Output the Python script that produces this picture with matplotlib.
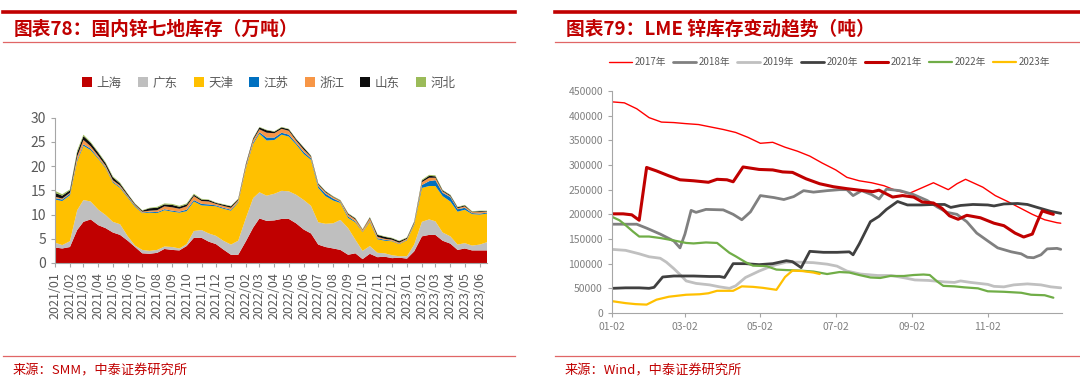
import numpy as np
import pandas as pd
import matplotlib
matplotlib.use("Agg")
import matplotlib.pyplot as plt
import matplotlib.dates as mdates
from matplotlib.lines import Line2D

plt.rcParams['font.family'] = ['Noto Sans CJK SC', 'DejaVu Sans']

# ---- left: 国内锌七地库存（万吨），semi-monthly readings ----
months = pd.date_range("2021-01-01", "2023-06-01", freq="MS")
inv_dates = [d for m in months for d in (m, m + pd.Timedelta(days=15))]

regions = ["上海", "广东", "天津", "江苏", "浙江", "山东", "河北"]
region_colors = ["#C00000", "#BFBFBF", "#FFC000", "#0070C0", "#F79646", "#0D0D0D", "#9BBB59"]

shanghai = [3.2, 3.0, 3.3, 6.8, 8.5, 9.0, 7.8, 7.2, 6.3, 5.8,
            4.6, 3.3, 2.0, 1.9, 2.1, 2.9, 2.7, 2.6, 3.5, 5.2,
            5.2, 4.4, 3.9, 2.8, 1.7, 1.7, 4.5, 7.3, 9.2, 8.7,
            8.8, 9.1, 9.1, 8.2, 6.9, 6.1, 3.8, 3.3, 3.0, 2.7,
            1.7, 2.0, 0.8, 1.9, 1.2, 1.3, 1.0, 1.1, 0.9, 2.4,
            5.5, 5.8, 5.8, 4.6, 4.0, 2.7, 3.0, 2.6, 2.6, 2.6]
guangdong = [1.0, 0.7, 1.2, 4.1, 4.5, 3.7, 3.2, 2.7, 2.2, 2.2,
             0.9, 0.3, 0.7, 0.6, 0.6, 0.5, 0.6, 0.4, 0.4, 1.4,
             1.6, 1.7, 1.7, 1.8, 2.1, 2.9, 4.8, 6.1, 5.4, 5.2,
             5.5, 5.8, 5.7, 5.9, 6.1, 5.7, 4.6, 4.8, 5.2, 6.2,
             5.5, 2.8, 1.7, 1.6, 0.9, 0.7, 0.6, 0.3, 0.5, 1.4,
             3.0, 3.2, 2.8, 1.7, 1.5, 1.1, 1.1, 1.0, 1.2, 1.7]
tianjin = [8.9, 9.1, 9.5, 10.1, 11.2, 10.6, 10.5, 9.7, 8.1, 7.5,
           8.0, 8.0, 7.6, 7.9, 7.6, 7.5, 7.3, 7.4, 6.8, 6.1,
           5.1, 5.7, 6.1, 6.6, 7.0, 7.9, 10.3, 11.2, 12.1, 11.4,
           11.1, 11.6, 11.3, 10.4, 9.5, 9.5, 7.1, 5.7, 4.7, 3.5,
           2.1, 3.6, 3.9, 5.0, 2.8, 2.6, 2.9, 2.5, 3.3, 4.1,
           7.0, 6.9, 7.3, 7.5, 7.2, 6.8, 6.9, 6.5, 6.2, 5.9]
jiangsu = [0.3, 0.3, 0.3, 0.3, 0.3, 0.3, 0.2, 0.2, 0.2, 0.2,
           0.2, 0.2, 0.1, 0.2, 0.2, 0.2, 0.2, 0.2, 0.3, 0.3,
           0.3, 0.3, 0.2, 0.2, 0.2, 0.2, 0.2, 0.3, 0.3, 0.6,
           0.5, 0.4, 0.4, 0.3, 0.4, 0.3, 0.4, 0.5, 0.4, 0.2,
           0.3, 0.2, 0.1, 0.2, 0.2, 0.2, 0.1, 0.1, 0.1, 0.2,
           0.6, 1.0, 1.2, 0.7, 0.9, 0.5, 0.4, 0.2, 0.2, 0.2]
zhejiang = [0.3, 0.2, 0.2, 0.7, 0.9, 0.5, 0.4, 0.3, 0.3, 0.3,
            0.2, 0.2, 0.2, 0.2, 0.4, 0.6, 0.7, 0.6, 0.7, 0.8,
            0.6, 0.6, 0.3, 0.4, 0.4, 0.3, 0.4, 0.5, 0.6, 1.0,
            0.9, 0.8, 0.8, 0.5, 0.5, 0.3, 0.3, 0.3, 0.3, 0.2,
            0.4, 0.4, 0.3, 0.5, 0.3, 0.2, 0.2, 0.2, 0.2, 0.2,
            0.6, 0.7, 0.5, 0.3, 0.2, 0.2, 0.3, 0.2, 0.3, 0.2]
shandong = [0.8, 0.6, 0.5, 0.8, 0.8, 0.7, 0.6, 0.5, 0.6, 0.4,
            0.3, 0.2, 0.2, 0.5, 0.5, 0.4, 0.5, 0.4, 0.4, 0.3,
            0.3, 0.3, 0.2, 0.25, 0.3, 0.2, 0.3, 0.3, 0.4, 0.5,
            0.3, 0.3, 0.3, 0.3, 0.4, 0.2, 0.2, 0.2, 0.1, 0.1,
            0.2, 0.2, 0.1, 0.2, 0.4, 0.4, 0.3, 0.3, 0.2, 0.2,
            0.3, 0.4, 0.3, 0.2, 0.2, 0.2, 0.2, 0.1, 0.2, 0.1]
hebei = [0.4, 0.3, 0.2, 0.4, 0.3, 0.2, 0.2, 0.2, 0.2, 0.2,
         0.1, 0.1, 0.1, 0.1, 0.2, 0.2, 0.2, 0.2, 0.2, 0.2,
         0.15, 0.1, 0.1, 0.1, 0.1, 0.1, 0.1, 0.1, 0.1, 0.1,
         0.1, 0.1, 0.1, 0.1, 0.1, 0.1, 0.1, 0.1, 0.1, 0.1,
         0.1, 0.1, 0.1, 0.1, 0.1, 0.1, 0.1, 0.1, 0.1, 0.1,
         0.2, 0.2, 0.2, 0.1, 0.1, 0.1, 0.1, 0.1, 0.1, 0.1]

# ---- right: LME 锌库存（吨），day-of-year readings ----
lme_years = ["2017年", "2018年", "2019年", "2020年", "2021年", "2022年", "2023年"]
lme_colors = ["#FF0000", "#808080", "#C0C0C0", "#404040", "#C00000", "#70AD47", "#FFC000"]
lme_widths = [1.0, 2.0, 2.0, 2.0, 2.2, 1.6, 1.6]

d2017 = ["01-02", "01-12", "01-22", "02-01", "02-11", "02-21", "03-02", "03-13", "03-23", "04-02",
         "04-12", "04-22", "05-02", "05-12", "05-22", "06-01", "06-11", "06-21", "07-02", "07-11",
         "07-21", "07-31", "08-10", "08-20", "08-30", "09-09", "09-19", "10-01", "10-08", "10-15",
         "10-29", "11-08", "11-18", "11-28", "12-08", "12-18", "12-28", "12-31"]
v2017 = [428, 426, 414, 396, 387, 386, 384, 382, 377, 372,
         366, 356, 344, 346, 336, 328, 318, 304, 290, 275,
         268, 264, 258, 248, 242, 253, 264, 250, 262, 271,
         255, 238, 226, 213, 200, 189, 183, 182]
d2018 = ["01-02", "01-22", "01-30", "02-10", "02-21", "02-26", "03-02", "03-07", "03-11", "03-19",
         "04-02", "04-10", "04-17", "04-24", "05-02", "05-13", "05-21", "05-29", "06-06", "06-14",
         "06-25", "07-05", "07-11", "07-16", "07-23", "07-31", "08-06", "08-12", "08-23", "09-03",
         "09-14", "09-22", "09-30", "10-08", "10-16", "10-24", "11-02", "11-10", "11-21", "11-29",
         "12-04", "12-09", "12-15", "12-20", "12-28", "12-31"]
v2018 = [180, 180, 172, 160, 146, 132, 160, 208, 204, 210,
         209, 200, 189, 205, 238, 234, 230, 236, 248, 245,
         248, 250, 250, 238, 248, 240, 231, 251, 248, 240,
         228, 215, 204, 200, 185, 162, 146, 132, 124, 120,
         113, 112, 118, 130, 131, 129]
d2019 = ["01-02", "01-13", "01-24", "02-01", "02-10", "02-15", "02-21", "02-26", "03-03", "03-11",
         "03-22", "03-30", "04-07", "04-12", "04-20", "05-01", "05-12", "05-23", "06-03", "06-14",
         "06-25", "07-03", "07-11", "07-22", "08-05", "08-16", "08-27", "09-04", "09-15", "09-28",
         "10-06", "10-11", "10-19", "11-02", "11-07", "11-15", "11-23", "12-04", "12-15", "12-23",
         "12-31"]
v2019 = [129, 127, 120, 114, 111, 103, 90, 78, 65, 60,
         57, 53, 50, 55, 72, 85, 96, 103, 103, 102,
         99, 95, 85, 79, 76, 76, 71, 67, 66, 63,
         62, 65, 62, 58, 54, 53, 57, 59, 57, 53,
         51]
d2020 = ["01-02", "01-13", "01-24", "02-01", "02-05", "02-12", "02-21", "03-09", "03-22", "03-30",
         "04-03", "04-10", "04-20", "05-01", "05-12", "05-23", "05-28", "06-04", "06-11", "06-22",
         "07-03", "07-13", "07-16", "07-21", "07-30", "08-06", "08-12", "08-21", "08-29", "09-09",
         "09-19", "09-28", "10-03", "10-11", "10-21", "11-02", "11-07", "11-15", "11-26", "12-04",
         "12-12", "12-23", "12-31"]
v2020 = [50, 51, 51, 50, 52, 73, 75, 75, 74, 74,
         72, 100, 100, 98, 100, 106, 104, 92, 125, 123,
         123, 124, 118, 140, 185, 196, 210, 226, 219, 219,
         220, 220, 214, 218, 220, 219, 217, 221, 222, 220,
         214, 206, 202]
d2021 = ["01-02", "01-11", "01-18", "01-24", "01-30", "02-07", "02-17", "02-26", "03-09", "03-21",
         "03-28", "04-05", "04-10", "04-18", "05-01", "05-12", "05-20", "05-28", "06-08", "06-19",
         "06-30", "07-11", "07-21", "08-01", "08-06", "08-17", "08-25", "09-03", "09-10", "09-19",
         "09-26", "10-02", "10-09", "10-16", "10-27", "11-07", "11-15", "11-24", "12-01", "12-08",
         "12-12", "12-16", "12-21", "12-25"]
v2021 = [201, 201, 199, 188, 295, 288, 278, 270, 268, 265,
         271, 270, 266, 296, 291, 290, 286, 285, 272, 262,
         256, 252, 249, 246, 249, 235, 238, 235, 225, 223,
         212, 197, 190, 198, 193, 182, 177, 162, 154, 160,
         185, 207, 203, 200]
d2022 = ["01-02", "01-08", "01-13", "01-19", "01-24", "02-01", "02-10", "02-21", "03-03", "03-09",
         "03-19", "03-28", "04-02", "04-07", "04-12", "04-20", "04-26", "05-07", "05-15", "05-23",
         "06-03", "06-14", "06-25", "07-05", "07-13", "07-21", "07-30", "08-07", "08-15", "08-26",
         "09-03", "09-11", "09-16", "09-22", "09-27", "10-06", "10-14", "10-25", "11-02", "11-15",
         "11-29", "12-07", "12-18", "12-25"]
v2022 = [195, 188, 178, 165, 155, 155, 152, 147, 142, 141,
         143, 142, 132, 122, 115, 103, 96, 95, 88, 87,
         86, 84, 79, 83, 82, 77, 72, 71, 75, 75,
         77, 78, 77, 64, 55, 54, 52, 50, 44, 43,
         41, 37, 36, 31]
d2023 = ["01-02", "01-13", "01-21", "01-30", "02-07", "02-17", "03-03", "03-14", "03-21", "03-28",
         "04-10", "04-17", "04-26", "05-04", "05-15", "05-22", "05-28", "06-05", "06-14", "06-19"]
v2023 = [24, 20, 18, 17, 27, 33, 37, 38, 40, 45,
         45, 54, 53, 51, 47, 73, 86, 85, 82, 79]

lme_dates = [d2017, d2018, d2019, d2020, d2021, d2022, d2023]
lme_values = [v2017, v2018, v2019, v2020, v2021, v2022, v2023]
lme_ticks = ["01-02", "03-02", "05-02", "07-02", "09-02", "11-02"]

RED = "#C00000"
TICK = "#595959"
AXIS = "#A6A6A6"

fig = plt.figure(figsize=(10.8, 3.87), dpi=100)

# header / footer rules
for x0, x1 in [(0.003, 0.477), (0.514, 1.0)]:
    fig.add_artist(Line2D([x0, x1], [1 - 12 / 387] * 2, color=RED, lw=2.6))
    fig.add_artist(Line2D([x0, x1], [1 - 42 / 387] * 2, color="#E06666", lw=0.9))
    fig.add_artist(Line2D([x0, x1], [1 - 356 / 387] * 2, color="#E06666", lw=0.9))

fig.text(0.013, 1 - 29 / 387, "图表78：国内锌七地库存（万吨）", color=RED, fontsize=13.5,
         fontweight="bold", va="center", ha="left")
fig.text(0.524, 1 - 29 / 387, "图表79：LME 锌库存变动趋势（吨）", color=RED, fontsize=13.5,
         fontweight="bold", va="center", ha="left")
fig.text(0.012, 1 - 371 / 387, "来源：SMM，中泰证券研究所", color=RED, fontsize=9.5, va="center")
fig.text(0.523, 1 - 371 / 387, "来源：Wind，中泰证券研究所", color=RED, fontsize=9.5, va="center")

# ---- left chart ----
ax1 = fig.add_axes([55 / 1080, 1 - 263 / 387, 432 / 1080, 145.3 / 387])
stacks = ax1.stackplot(inv_dates, shanghai, guangdong, tianjin, jiangsu, zhejiang, shandong, hebei,
                       colors=region_colors, labels=regions, linewidth=0)
ax1.set_ylim(0, 30)
ax1.set_yticks(range(0, 31, 5))
ax1.set_xlim(inv_dates[0], inv_dates[-1])
ax1.set_xticks(months)
ax1.xaxis.set_major_formatter(mdates.DateFormatter("%Y/%m"))
ax1.tick_params(axis="x", labelrotation=90, labelsize=9, colors=TICK, length=3, color=AXIS)
ax1.tick_params(axis="y", labelsize=10, colors=TICK, length=3, color=AXIS)
for s in ["top", "right"]:
    ax1.spines[s].set_visible(False)
for s in ["left", "bottom"]:
    ax1.spines[s].set_color(AXIS)

fig.legend(handles=stacks, labels=regions, loc="center", bbox_to_anchor=(0.249, 1 - 83 / 387),
           ncol=7, frameon=False, fontsize=9, handlelength=0.8, handleheight=0.8,
           handletextpad=0.35, columnspacing=1.3, labelcolor=TICK)

# ---- right chart ----
ax2 = fig.add_axes([612 / 1080, 1 - 313 / 387, 450 / 1080, 222 / 387])
handles = []
for name, ds, vs, c, w in zip(lme_years, lme_dates, lme_values, lme_colors, lme_widths):
    x = pd.to_datetime(["2001-" + d for d in ds])
    y = np.array(vs) * 1000
    h, = ax2.plot(x, y, color=c, lw=w, label=name, solid_joinstyle="round", solid_capstyle="round")
    handles.append(h)
ax2.set_ylim(0, 450000)
ax2.set_yticks(range(0, 450001, 50000))
ax2.set_xlim(pd.Timestamp("2001-01-02"), pd.Timestamp("2002-01-01"))
ax2.set_xticks(pd.to_datetime(["2001-" + t for t in lme_ticks]))
ax2.xaxis.set_major_formatter(mdates.DateFormatter("%m-%d"))
ax2.tick_params(axis="both", labelsize=7.5, colors="#808080", length=3, color=AXIS)
for s in ["top", "right"]:
    ax2.spines[s].set_visible(False)
for s in ["left", "bottom"]:
    ax2.spines[s].set_color(AXIS)

fig.legend(handles=handles, labels=lme_years, loc="center", bbox_to_anchor=(0.768, 1 - 62 / 387),
           ncol=7, frameon=False, fontsize=7, handlelength=2.4, handletextpad=0.25,
           columnspacing=0.7, labelcolor=TICK)

fig.savefig("out.png", dpi=100)
